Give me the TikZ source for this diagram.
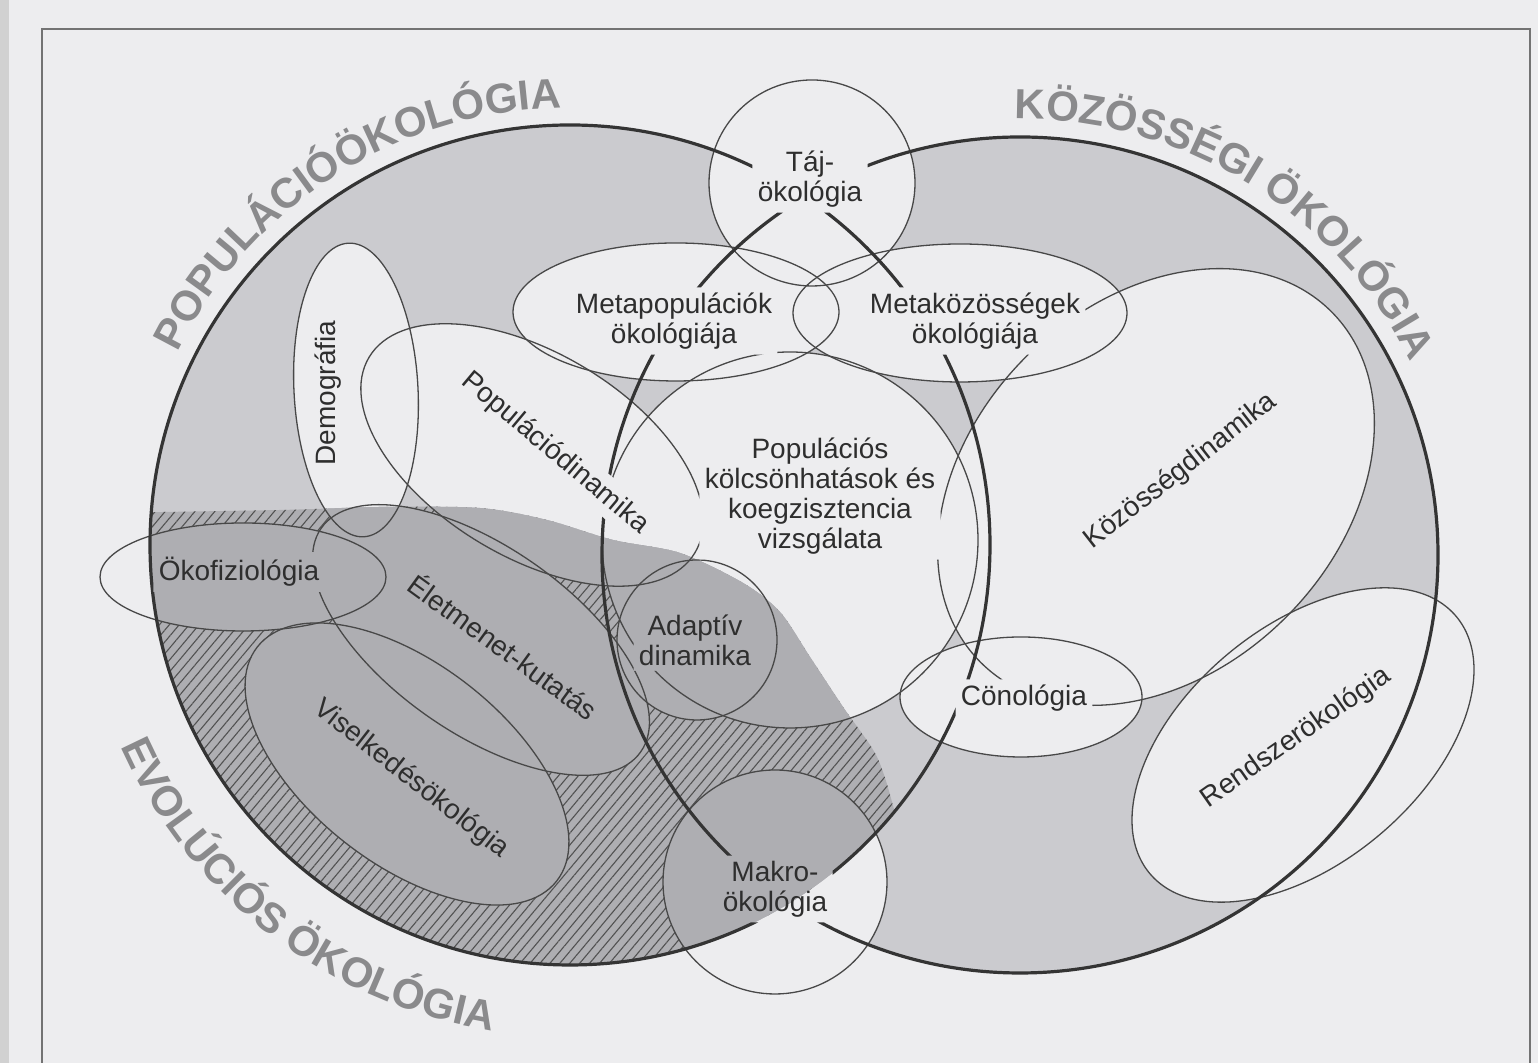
\documentclass[tikz,border=0pt]{standalone}
\usepackage{fontspec}
\setmainfont{Liberation Sans}
\usetikzlibrary{patterns.meta,decorations.text}

\definecolor{paper}{RGB}{237,237,239}
\definecolor{ringgray}{RGB}{203,203,207}
\definecolor{evogray}{RGB}{174,174,178}
\definecolor{inkgray}{RGB}{52,52,52}
\definecolor{thingray}{RGB}{72,72,72}
\definecolor{titlegray}{RGB}{138,138,140}

\tikzset{
  bigring/.style={draw=inkgray, line width=1.6pt},
  field/.style={draw=thingray, line width=0.65pt},
  lbl/.style={font=\fontsize{14}{15}\selectfont, align=center, inner sep=2.5pt, text=black!82},
  bigtitle/.style={decorate, decoration={text along path, text align=center,
    text color=titlegray, text={|\fontsize{21}{21}\selectfont\bfseries|#1}}},
  hatch/.style={pattern={Lines[angle=50,distance=3.8pt,line width=0.55pt]}, pattern color=black!68}
}

% lower left region of evolutionary ecology
\newcommand{\evoblob}{plot[smooth] coordinates {(100,550) (280,553) (380,556) (480,555) (547,543)
  (613,523) (680,510) (743,480) (780,451) (810,406) (843,356) (876,308) (892,261) (905,203) (915,100)}
  -- (915,0) -- (100,0) -- cycle}

\begin{document}
\begin{tikzpicture}[x=0.5pt, y=0.5pt]
	\useasboundingbox (0,0) rectangle (1538,1063);
	\fill[paper] (0,0) rectangle (1538,1063);
	\fill[black!18] (0,0) rectangle (9,1063);

	% the two big fields
	\fill[ringgray] (570,518) circle[radius=420];
	\fill[ringgray] (1020,508) circle[radius=418];

	% light subfields
	\fill[paper] (812,880) circle[radius=103];
	\fill[paper] (676,751) ellipse[x radius=163, y radius=69];
	\fill[paper] (960,750) ellipse[x radius=167, y radius=69];
	\fill[paper, rotate around={3:(356,673)}] (356,673) ellipse[x radius=62, y radius=147];
	\fill[paper, rotate around={-31:(532,608)}] (532,608) ellipse[x radius=190, y radius=102];
	\fill[paper] (790,523) circle[radius=188];
	\fill[paper, rotate around={45:(1156,576)}] (1156,576) ellipse[x radius=248, y radius=184];
	\fill[paper] (1021,366) ellipse[x radius=121, y radius=60];
	\fill[paper, rotate around={40:(1303,318)}] (1303,318) ellipse[x radius=200, y radius=118];
	\fill[paper] (775,181) circle[radius=112];

	% evolutionary part, hatched outside the subfields
	\begin{scope}
		\clip (570,518) circle[radius=420];
		\clip \evoblob;
		\fill[evogray] (0,0) rectangle (1538,1063);
		\fill[hatch] (0,0) rectangle (1538,1063);
		\fill[evogray, rotate around={3:(356,673)}] (356,673) ellipse[x radius=62, y radius=147];
		\fill[evogray, rotate around={-31:(532,608)}] (532,608) ellipse[x radius=190, y radius=102];
		\fill[evogray] (790,523) circle[radius=188];
		\fill[evogray] (243,486) ellipse[x radius=143, y radius=54];
		\fill[evogray, rotate around={-35:(481,423)}] (481,423) ellipse[x radius=195, y radius=93];
		\fill[evogray, rotate around={-38:(407,299)}] (407,299) ellipse[x radius=190, y radius=100];
		\fill[evogray] (697,423) circle[radius=80];
		\fill[evogray] (775,181) circle[radius=112];
	\end{scope}

	% labels
	\node[lbl] (taj) at (810,884) {Táj-\\ökológia};
	\node[lbl] (metapop) at (674,742) {Metapopulációk\\ökológiája};
	\node[lbl] (metakoz) at (975,742) {Metaközösségek\\ökológiája};
	\node[lbl, rotate=90] (demogr) at (328,670) {Demográfia};
	\node[lbl, rotate=-40] (popdin) at (555,610) {Populációdinamika};
	\node[lbl] (kolcs) at (820,567) {Populációs\\kölcsönhatások és\\koegzisztencia\\vizsgálata};
	\node[lbl, rotate=38] (kozdin) at (1181,592) {Közösségdinamika};
	\node[lbl] (okofiz) at (239,491) {Ökofiziológia};
	\node[lbl, rotate=-36] (eletm) at (504,417) {Életmenet-kutatás};
	\node[lbl, rotate=-38] (viselk) at (411,284) {Viselkedésökológia};
	\node[lbl] (adapt) at (695,423) {Adaptív\\dinamika};
	\node[lbl] (cono) at (1024,365) {Cönológia};
	\node[lbl, rotate=35] (rendsz) at (1296,325) {Rendszerökológia};
	\node[lbl] (makro) at (775,174) {Makro-\\ökológia};

	% outlines, broken where a label sits
	\begin{scope}
		\clip (0,0) -- (1538,0) -- (1538,1063) -- (0,1063) -- cycle
			\foreach \n in {taj,metapop,metakoz,demogr,popdin,kolcs,kozdin,okofiz,eletm,viselk,adapt,cono,rendsz,makro}{
				(\n.north west) -- (\n.north east) -- (\n.south east) -- (\n.south west) -- cycle};
		\draw[field] (812,880) circle[radius=103];
		\draw[field] (676,751) ellipse[x radius=163, y radius=69];
		\draw[field] (960,750) ellipse[x radius=167, y radius=69];
		\draw[field, rotate around={3:(356,673)}] (356,673) ellipse[x radius=62, y radius=147];
		\draw[field, rotate around={-31:(532,608)}] (532,608) ellipse[x radius=190, y radius=102];
		\draw[field] (790,523) circle[radius=188];
		\draw[field, rotate around={45:(1156,576)}] (1156,576) ellipse[x radius=248, y radius=184];
		\draw[field] (1021,366) ellipse[x radius=121, y radius=60];
		\draw[field, rotate around={40:(1303,318)}] (1303,318) ellipse[x radius=200, y radius=118];
		\draw[field] (243,486) ellipse[x radius=143, y radius=54];
		\draw[field, rotate around={-35:(481,423)}] (481,423) ellipse[x radius=195, y radius=93];
		\draw[field, rotate around={-38:(407,299)}] (407,299) ellipse[x radius=190, y radius=100];
		\draw[field] (697,423) circle[radius=80];
		\draw[field] (775,181) circle[radius=112];
		\draw[bigring] (570,518) circle[radius=420];
		\draw[bigring] (1020,508) circle[radius=418];
	\end{scope}

	% titles round the big fields
	\path[bigtitle=POPULÁCIÓÖKOLÓGIA] (173.9,702.7) arc[start angle=155, end angle=90, radius=437];
	\path[bigtitle={KÖZÖSSÉGI ÖKOLÓGIA}] (982.0,942.3) arc[start angle=95, end angle=22, radius=436];
	\path[bigtitle={EVOLÚCIÓS ÖKOLÓGIA}] (107.7,349.7) arc[start angle=200, end angle=265, radius=492];

	% frame
	\draw[black!55, line width=1pt] (42,0) -- (42,1034) -- (1530,1034) -- (1530,0);
\end{tikzpicture}
\end{document}
